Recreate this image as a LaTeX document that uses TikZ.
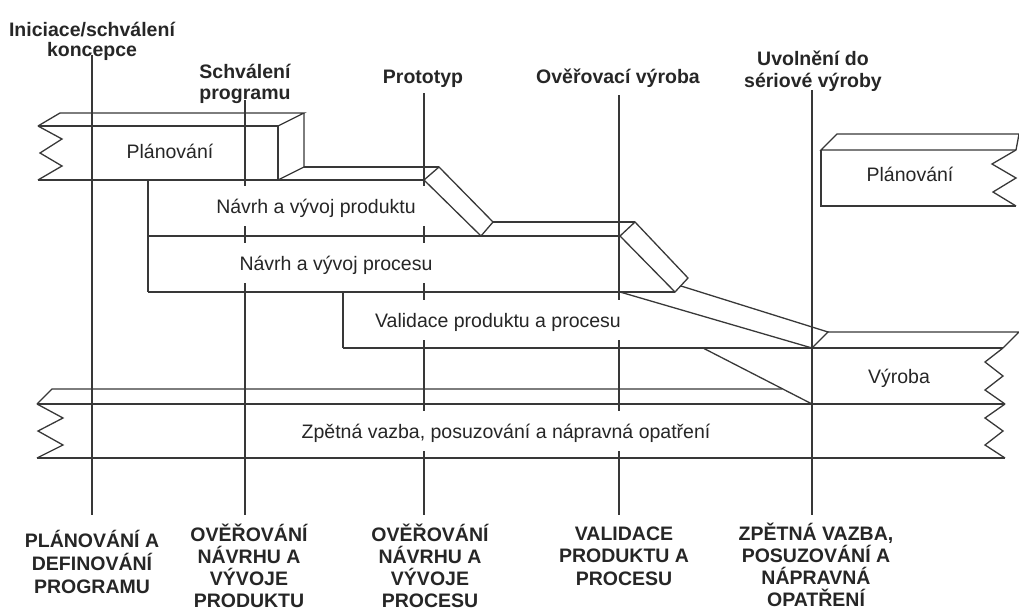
\documentclass[tikz,border=0pt]{standalone}
\usepackage{fontspec}
\setmainfont{Liberation Sans}
% invisible rule that fixes the height of the first line of a label
\newcommand{\lblstrut}{\rule{0pt}{18pt}}
\begin{document}
\begin{tikzpicture}[x=1pt,y=-1pt,
  edge/.style={draw=black!78, line width=1.3pt, line join=miter},
  milestone/.style={draw=black!78, line width=1.3pt},
  phase/.style={fill=white, inner xsep=12pt, inner ysep=0pt,
    minimum height=40pt, text height=14pt, text depth=0pt,
    font=\fontsize{19.5}{23}\selectfont, text=black!85},
  gate/.style={align=center, anchor=north, inner sep=0pt,
    font=\bfseries\fontsize{19.5}{21}\selectfont, text=black!85},
  stage/.style={align=center, anchor=north, inner sep=0pt,
    font=\bfseries\fontsize{19.5}{23}\selectfont, text=black!85}]
\useasboundingbox (0,0) rectangle (1019,610);

% milestone lines
\coordinate (m1t) at (92,55);   \coordinate (m1b) at (92,515);
\coordinate (m2t) at (245,100); \coordinate (m2b) at (245,515);
\coordinate (m3t) at (424,93);  \coordinate (m3b) at (424,515);
\coordinate (m4t) at (619,95);  \coordinate (m4b) at (619,515);
\coordinate (m5t) at (812,90);  \coordinate (m5b) at (812,515);
\draw[milestone] (m1t) -- (m1b);
\draw[milestone] (m2t) -- (m2b);
\draw[milestone] (m3t) -- (m3b);
\draw[milestone] (m4t) -- (m4b);
\draw[milestone] (m5t) -- (m5b);

% phase labels (white boxes interrupt the milestone lines)
\node[phase] (plan1) at (170,151) {Plánování};
\node[phase] (prod)  at (316,206) {Návrh a vývoj produktu};
\node[phase] (proc)  at (336,263) {Návrh a vývoj procesu};
\node[phase] (valid) at (498,320) {Validace produktu a procesu};
\node[phase] (mfg)   at (899,376) {Výroba};
\node[phase] (fb)    at (506,431) {Zpětná vazba, posuzování a nápravná opatření};
\node[phase] (plan2) at (910,174) {Plánování};

% planning block (left)
\draw[edge] (38,126) -- (278,126) -- (278,180);
\draw[edge] (38,126) -- (60,113) -- (304,113) -- (278,126);
\draw[edge] (304,113) -- (304,167) -- (278,180);
\draw[edge] (38,126) -- (62,139) -- (40,153) -- (62,166) -- (38,180);
\draw[edge] (38,180) -- (424,180);

% product design band and first step
\draw[edge] (304,167) -- (439,167);
\draw[edge] (148,180) -- (148,292);
\draw[edge] (424,180) -- (439,167) -- (493,222) -- (481,236) -- cycle;
\draw[edge] (148,236) -- (620,236);
\draw[edge] (493,222) -- (635,222);

% process design band and second step
\draw[edge] (620,236) -- (635,222) -- (688,278) -- (675,292) -- cycle;
\draw[edge] (148,292) -- (675,292);

% validation band with sloping top
\draw[edge] (343,292) -- (343,348);
\draw[edge] (620,292) -- (812,348);
\draw[edge] (681,286) -- (828,332) -- (812,348);
\draw[edge] (343,348) -- (1003,348);

% production band
\draw[edge] (828,332) -- (1019,332) -- (1003,348);
\draw[edge] (1003,348) -- (985,362) -- (1003,376) -- (985,390) -- (1005,404);
\draw[edge] (703,348) -- (812,404);

% feedback band
\draw[edge] (782,389) -- (52,389) -- (37,404);
\draw[edge] (37,404) -- (1005,404);
\draw[edge] (37,458) -- (1005,458);
\draw[edge] (37,404) -- (63,418) -- (38,431) -- (63,445) -- (37,458);
\draw[edge] (1005,404) -- (985,418) -- (1003,431) -- (985,445) -- (1005,458);

% planning block (right)
\draw[edge] (1016,150) -- (821,150) -- (837,134) -- (1019,134) -- (1016,150);
\draw[edge] (821,150) -- (821,206) -- (1016,206);
\draw[edge] (1016,150) -- (992,164) -- (1016,178) -- (993,192) -- (1016,206);

% milestone names
\node[gate, font=\bfseries\fontsize{19.5}{20}\selectfont] (g1) at (92,18) {\lblstrut Iniciace/schválení\\koncepce};
\node[gate] (g2) at (245,60) {\lblstrut Schválení\\programu};
\node[gate] (g3) at (423,65) {\lblstrut Prototyp};
\node[gate] (g4) at (618,65) {\lblstrut Ověřovací výroba};
\node[gate, font=\bfseries\fontsize{19.5}{22}\selectfont] (g5) at (813,47) {\lblstrut Uvolnění do\\sériové výroby};

% stage names
\node[stage] (s1) at (92,529)  {\lblstrut PLÁNOVÁNÍ A\\DEFINOVÁNÍ\\PROGRAMU};
\node[stage, font=\bfseries\fontsize{19.5}{22}\selectfont] (s2) at (249,523) {\lblstrut OVĚŘOVÁNÍ\\NÁVRHU A\\VÝVOJE\\PRODUKTU};
\node[stage, font=\bfseries\fontsize{19.5}{22}\selectfont] (s3) at (430,523) {\lblstrut OVĚŘOVÁNÍ\\NÁVRHU A\\VÝVOJE\\PROCESU};
\node[stage, font=\bfseries\fontsize{19.5}{22.5}\selectfont] (s4) at (624,522) {\lblstrut VALIDACE\\PRODUKTU A\\PROCESU};
\node[stage, font=\bfseries\fontsize{19.5}{22}\selectfont] (s5) at (816,522) {\lblstrut ZPĚTNÁ VAZBA,\\POSUZOVÁNÍ A\\NÁPRAVNÁ\\OPATŘENÍ};
\end{tikzpicture}
\end{document}
